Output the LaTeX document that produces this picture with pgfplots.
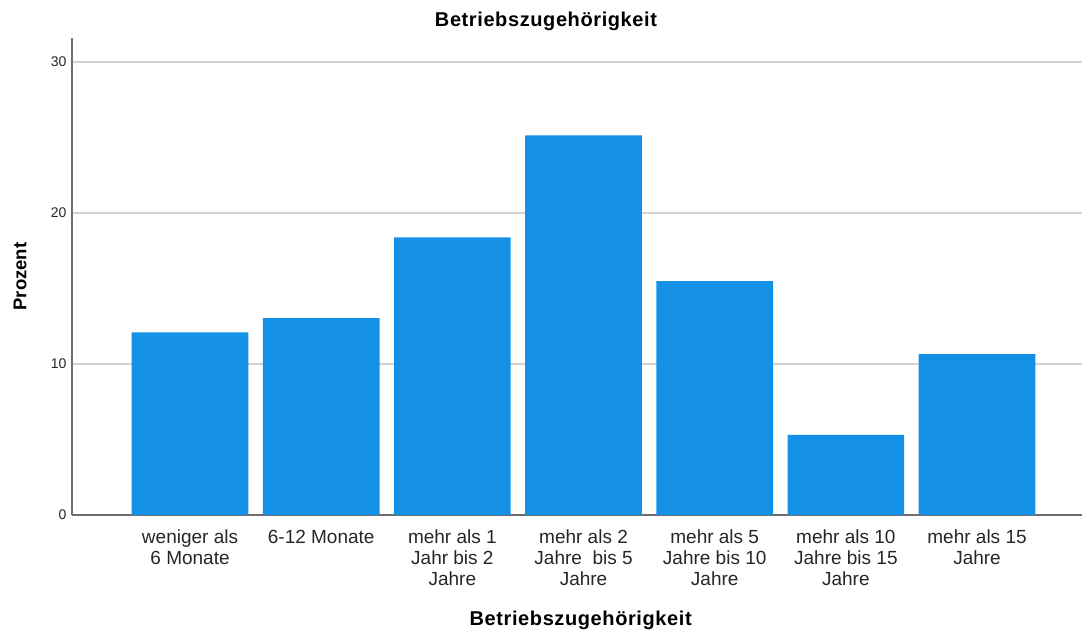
\documentclass[border=0pt]{standalone}
\usepackage{pgfplots}
\pgfplotsset{compat=1.18}
\usepackage{fontspec}
\setmainfont{Liberation Sans}
\definecolor{barblue}{RGB}{20,144,230}
\definecolor{gridgray}{RGB}{210,210,210}
\definecolor{axgray}{RGB}{110,110,110}
\begin{document}
\begin{tikzpicture}
\path[use as bounding box] (0,0) rectangle (1082pt,632pt);
\begin{axis}[
  at={(72pt,117pt)}, anchor=south west,
  scale only axis, width=1010pt, height=477pt,
  xmin=-0.9, xmax=6.8, ymin=0, ymax=31.6,
  axis x line*=bottom, axis y line*=left,
  axis line style={axgray, line width=1.3pt, -},
  tick style={draw=none},
  ytick={0,10,20,30},
  ymajorgrids, grid style={gridgray, line width=1.5pt},
  xtick={0,...,6},
  xticklabels={{weniger als\\6 Monate},{6-12 Monate},{mehr als 1\\Jahr bis 2\\Jahre},{mehr als 2\\Jahre\ \ bis 5\\Jahre},{mehr als 5\\Jahre bis 10\\Jahre},{mehr als 10\\Jahre bis 15\\Jahre},{mehr als 15\\Jahre}},
  xticklabel style={align=center, font=\fontsize{19}{21}\selectfont, text=black!85, inner sep=0pt, yshift=-15pt},
  yticklabel style={font=\fontsize{14}{16}\selectfont, text=black!85, xshift=-2pt},
  /pgf/number format/assume math mode=true,
  ylabel={\textbf{Prozent}},
  ylabel style={font=\fontsize{18.5}{22}\selectfont, at={(axis description cs:0,0.5)}, anchor=center, yshift=52pt},
  xlabel={\textbf{Betriebszugehörigkeit}},
  xlabel style={font=\fontsize{20}{22}\selectfont\addfontfeatures{LetterSpace=3}, at={(axis description cs:0.5,0)}, anchor=center, yshift=-105pt, xshift=4pt},
]
\addplot[ybar, bar width=0.89, fill=barblue, draw=none] coordinates {
  (0,12.1) (1,13.05) (2,18.4) (3,25.15) (4,15.5) (5,5.3) (6,10.65)
};
\end{axis}
\node[font=\fontsize{20}{22}\selectfont\bfseries\addfontfeatures{LetterSpace=3}] at (546pt,611pt) {Betriebszugehörigkeit};
\end{tikzpicture}
\end{document}
